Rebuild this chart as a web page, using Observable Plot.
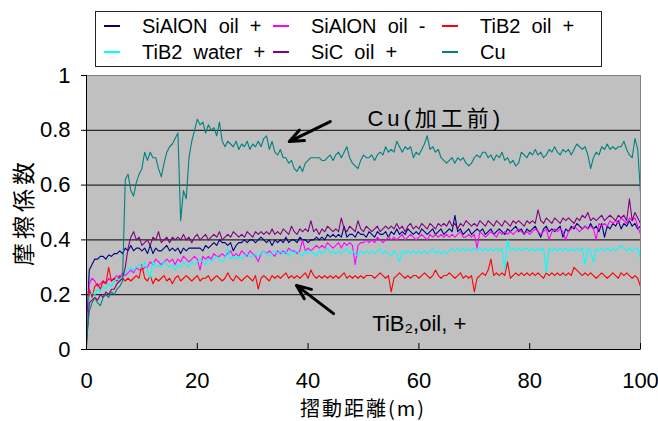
<!DOCTYPE html>
<html><head><meta charset="utf-8">
<script src="https://cdn.jsdelivr.net/npm/d3@7"></script>
<script src="https://cdn.jsdelivr.net/npm/@observablehq/plot@0.6"></script>
<style>
html,body{margin:0;padding:0;background:#fff;}
#wrap{position:relative;width:658px;height:421px;overflow:hidden;font-family:"Liberation Sans",Arial,sans-serif;}
#chart svg{display:block;}
#legend{position:absolute;left:95px;top:11px;width:505px;height:54px;border:1.5px solid #222;}
.item{position:absolute;height:26px;width:160px;}
.sw{position:absolute;left:0;top:12px;width:16px;height:2px;}
.lb{position:absolute;left:38px;top:0;font-size:20px;line-height:26px;white-space:pre;color:#000;}
.title{position:absolute;font-family:"Noto Sans CJK JP","Liberation Sans",sans-serif;color:#000;white-space:pre;text-align:center;}
</style></head>
<body><div id="wrap"><div id="chart"></div><div id="legend"></div>
<div class="title" id="xt"></div><div class="title" id="yt"></div></div>
<script>
// ---- data ----
const seriesNames = ["SiAlON  oil  +", "SiAlON  oil  -", "TiB2  oil  +", "TiB2  water  +", "SiC  oil  +", "Cu"];
const seriesColors = ["#000080", "#ff00ff", "#ff0000", "#00ffff", "#800080", "#008080"];
const xTicks = [0, 20, 40, 60, 80, 100];
const yTicks = [0, 0.2, 0.4, 0.6, 0.8, 1];
const yGrid = [0.2, 0.4, 0.6, 0.8];
const xTitle = "摺動距離(m)";
const yTitle = "摩擦係数";

const distance = [
0,0.5,1,1.5,2,2.5,3,3.5,4,4.5,5,5.5,6,6.5,7,7.5,8,8.5,9,9.5,
10,10.5,11,11.5,12,12.5,13,13.5,14,14.5,15,15.5,16,16.5,17,17.5,18,18.5,19,19.5,
20,20.5,21,21.5,22,22.5,23,23.5,24,24.5,25,25.5,26,26.5,27,27.5,28,28.5,29,29.5,
30,30.5,31,31.5,32,32.5,33,33.5,34,34.5,35,35.5,36,36.5,37,37.5,38,38.5,39,39.5,
40,40.5,41,41.5,42,42.5,43,43.5,44,44.5,45,45.5,46,46.5,47,47.5,48,48.5,49,49.5,
50,50.5,51,51.5,52,52.5,53,53.5,54,54.5,55,55.5,56,56.5,57,57.5,58,58.5,59,59.5,
60,60.5,61,61.5,62,62.5,63,63.5,64,64.5,65,65.5,66,66.5,67,67.5,68,68.5,69,69.5,
70,70.5,71,71.5,72,72.5,73,73.5,74,74.5,75,75.5,76,76.5,77,77.5,78,78.5,79,79.5,
80,80.5,81,81.5,82,82.5,83,83.5,84,84.5,85,85.5,86,86.5,87,87.5,88,88.5,89,89.5,
90,90.5,91,91.5,92,92.5,93,93.5,94,94.5,95,95.5,96,96.5,97,97.5,98,98.5,99,99.5,
100];

const sialonOilPlus = [
0.05,0.29,0.31,0.33,0.33,0.34,0.34,0.33,0.345,0.34,
0.35,0.35,0.36,0.35,0.37,0.36,0.38,0.36,0.37,0.37,
0.36,0.37,0.35,0.38,0.35,0.37,0.36,0.36,0.37,0.38,
0.36,0.37,0.36,0.37,0.35,0.37,0.36,0.37,0.37,0.37,
0.37,0.37,0.36,0.38,0.37,0.38,0.39,0.38,0.4,0.39,
0.39,0.38,0.39,0.36,0.38,0.39,0.39,0.4,0.39,0.4,
0.4,0.39,0.4,0.41,0.4,0.39,0.4,0.38,0.4,0.39,
0.4,0.39,0.41,0.39,0.4,0.4,0.39,0.41,0.4,0.4,
0.39,0.4,0.4,0.41,0.4,0.41,0.4,0.42,0.41,0.42,
0.41,0.42,0.41,0.45,0.41,0.42,0.42,0.41,0.43,0.42,
0.42,0.41,0.43,0.42,0.41,0.43,0.42,0.42,0.43,0.41,
0.43,0.42,0.44,0.42,0.43,0.42,0.44,0.43,0.42,0.43,
0.42,0.44,0.43,0.42,0.43,0.44,0.42,0.43,0.44,0.42,
0.43,0.44,0.43,0.49,0.43,0.44,0.42,0.43,0.44,0.42,
0.43,0.44,0.43,0.44,0.42,0.43,0.44,0.42,0.43,0.44,
0.43,0.42,0.44,0.43,0.44,0.45,0.43,0.44,0.42,0.44,
0.43,0.44,0.45,0.43,0.41,0.44,0.45,0.43,0.44,0.43,
0.44,0.45,0.41,0.44,0.43,0.45,0.44,0.46,0.45,0.44,
0.45,0.44,0.46,0.44,0.45,0.43,0.46,0.41,0.45,0.44,
0.46,0.45,0.47,0.44,0.46,0.45,0.47,0.45,0.46,0.44,
0.45];

const sialonOilMinus = [
0.03,0.24,0.26,0.25,0.23,0.24,0.25,0.24,0.26,0.25,
0.26,0.27,0.26,0.28,0.27,0.28,0.29,0.28,0.3,0.29,
0.29,0.3,0.3,0.32,0.31,0.33,0.32,0.31,0.32,0.33,
0.32,0.33,0.31,0.33,0.32,0.34,0.33,0.32,0.33,0.34,
0.33,0.29,0.34,0.33,0.34,0.33,0.35,0.34,0.34,0.35,
0.34,0.35,0.36,0.34,0.35,0.34,0.36,0.35,0.34,0.36,
0.35,0.34,0.32,0.35,0.36,0.35,0.36,0.35,0.34,0.36,
0.35,0.36,0.35,0.37,0.36,0.36,0.35,0.36,0.4,0.36,
0.37,0.36,0.37,0.38,0.37,0.38,0.37,0.39,0.38,0.37,
0.38,0.39,0.37,0.39,0.38,0.39,0.38,0.31,0.38,0.39,
0.39,0.4,0.39,0.4,0.39,0.41,0.4,0.39,0.4,0.41,
0.4,0.41,0.4,0.41,0.42,0.4,0.41,0.42,0.41,0.4,
0.41,0.42,0.41,0.4,0.42,0.41,0.42,0.41,0.42,0.41,
0.42,0.41,0.42,0.41,0.42,0.43,0.41,0.41,0.42,0.41,
0.42,0.37,0.43,0.42,0.41,0.42,0.43,0.42,0.41,0.43,
0.42,0.43,0.42,0.43,0.42,0.43,0.44,0.43,0.42,0.43,
0.42,0.43,0.44,0.43,0.42,0.43,0.44,0.4,0.43,0.44,
0.43,0.44,0.43,0.4,0.43,0.44,0.45,0.44,0.43,0.44,
0.45,0.44,0.45,0.44,0.4,0.46,0.45,0.46,0.45,0.47,
0.46,0.47,0.46,0.48,0.47,0.46,0.48,0.47,0.48,0.45,
0.42];

const tib2OilPlus = [
0.01,0.22,0.19,0.23,0.24,0.22,0.25,0.24,0.3,0.25,
0.26,0.25,0.27,0.26,0.25,0.26,0.25,0.26,0.27,0.26,
0.31,0.26,0.25,0.27,0.24,0.26,0.25,0.26,0.27,0.25,
0.26,0.24,0.26,0.27,0.25,0.26,0.27,0.26,0.25,0.26,
0.27,0.25,0.26,0.26,0.27,0.25,0.26,0.27,0.26,0.25,
0.26,0.28,0.26,0.25,0.27,0.26,0.25,0.26,0.27,0.26,
0.25,0.27,0.22,0.26,0.27,0.26,0.25,0.27,0.26,0.27,
0.26,0.27,0.28,0.26,0.27,0.26,0.27,0.26,0.27,0.28,
0.26,0.29,0.27,0.26,0.27,0.26,0.27,0.26,0.27,0.26,
0.27,0.26,0.27,0.28,0.26,0.27,0.26,0.27,0.26,0.27,
0.26,0.27,0.27,0.27,0.26,0.27,0.28,0.27,0.26,0.27,
0.21,0.26,0.27,0.28,0.27,0.26,0.27,0.26,0.27,0.27,
0.26,0.27,0.28,0.27,0.26,0.27,0.29,0.27,0.26,0.27,
0.27,0.28,0.27,0.26,0.27,0.28,0.26,0.27,0.26,0.27,
0.21,0.26,0.27,0.28,0.27,0.29,0.33,0.27,0.28,0.27,
0.28,0.27,0.32,0.26,0.27,0.28,0.27,0.28,0.27,0.28,
0.27,0.28,0.27,0.28,0.27,0.26,0.28,0.27,0.28,0.27,
0.28,0.27,0.28,0.27,0.28,0.27,0.3,0.29,0.28,0.27,
0.28,0.27,0.28,0.27,0.26,0.27,0.28,0.27,0.26,0.27,
0.28,0.27,0.26,0.28,0.27,0.28,0.27,0.26,0.27,0.26,
0.23];

const tib2WaterPlus = [
0.03,0.19,0.21,0.2,0.22,0.21,0.23,0.22,0.24,0.23,
0.25,0.26,0.25,0.27,0.28,0.29,0.3,0.29,0.3,0.31,
0.3,0.32,0.29,0.26,0.32,0.3,0.31,0.3,0.32,0.31,
0.3,0.31,0.29,0.31,0.3,0.32,0.31,0.3,0.32,0.31,
0.32,0.33,0.32,0.31,0.33,0.32,0.33,0.34,0.33,0.32,
0.33,0.37,0.33,0.34,0.33,0.34,0.33,0.34,0.35,0.34,
0.34,0.35,0.34,0.35,0.36,0.35,0.34,0.35,0.36,0.35,
0.36,0.35,0.36,0.34,0.36,0.35,0.36,0.35,0.34,0.36,
0.35,0.36,0.35,0.34,0.36,0.35,0.36,0.37,0.35,0.36,
0.35,0.36,0.35,0.36,0.37,0.35,0.36,0.35,0.34,0.36,
0.35,0.36,0.35,0.36,0.35,0.36,0.37,0.35,0.36,0.35,
0.34,0.36,0.35,0.32,0.36,0.35,0.36,0.35,0.36,0.35,
0.36,0.35,0.36,0.35,0.36,0.37,0.35,0.36,0.35,0.36,
0.35,0.36,0.37,0.36,0.37,0.36,0.37,0.36,0.37,0.36,
0.37,0.36,0.37,0.36,0.37,0.36,0.37,0.36,0.37,0.36,
0.37,0.29,0.4,0.36,0.37,0.36,0.37,0.36,0.37,0.37,
0.36,0.37,0.36,0.37,0.36,0.37,0.28,0.37,0.36,0.37,
0.36,0.37,0.36,0.37,0.36,0.37,0.36,0.37,0.36,0.37,
0.31,0.37,0.36,0.32,0.37,0.36,0.37,0.36,0.37,0.36,
0.37,0.36,0.37,0.38,0.37,0.36,0.37,0.36,0.37,0.37,
0.33];

const sicOilPlus = [
0.02,0.17,0.18,0.19,0.18,0.2,0.19,0.21,0.2,0.22,
0.22,0.24,0.25,0.26,0.3,0.37,0.41,0.43,0.4,0.41,
0.38,0.39,0.4,0.38,0.41,0.4,0.43,0.39,0.4,0.41,
0.39,0.41,0.4,0.41,0.4,0.42,0.4,0.41,0.39,0.41,
0.42,0.4,0.41,0.42,0.4,0.41,0.42,0.41,0.43,0.4,
0.41,0.42,0.41,0.43,0.42,0.41,0.42,0.41,0.43,0.42,
0.41,0.43,0.42,0.43,0.42,0.43,0.42,0.44,0.42,0.43,
0.42,0.44,0.43,0.42,0.45,0.43,0.42,0.44,0.43,0.44,
0.43,0.47,0.43,0.44,0.42,0.44,0.43,0.45,0.44,0.43,
0.44,0.43,0.48,0.44,0.43,0.45,0.44,0.43,0.47,0.44,
0.43,0.45,0.44,0.43,0.44,0.45,0.43,0.44,0.45,0.44,
0.45,0.44,0.46,0.44,0.45,0.43,0.45,0.46,0.44,0.45,
0.44,0.46,0.45,0.44,0.46,0.45,0.44,0.46,0.45,0.46,
0.45,0.47,0.45,0.46,0.44,0.46,0.45,0.47,0.46,0.45,
0.46,0.45,0.47,0.46,0.45,0.47,0.46,0.45,0.47,0.46,
0.45,0.47,0.46,0.45,0.47,0.46,0.47,0.46,0.45,0.47,
0.46,0.47,0.46,0.51,0.47,0.46,0.48,0.47,0.46,0.48,
0.47,0.46,0.48,0.47,0.48,0.47,0.46,0.48,0.47,0.49,
0.48,0.5,0.47,0.48,0.47,0.48,0.49,0.47,0.48,0.49,
0.48,0.47,0.49,0.48,0.49,0.47,0.55,0.47,0.5,0.48,
0.46];

const cu = [
0.03,0.14,0.17,0.19,0.17,0.16,0.19,0.2,0.19,0.21,
0.2,0.22,0.23,0.25,0.62,0.64,0.58,0.56,0.61,0.64,
0.66,0.72,0.69,0.72,0.7,0.7,0.66,0.63,0.68,0.72,
0.74,0.75,0.77,0.79,0.47,0.58,0.55,0.7,0.76,0.8,
0.84,0.82,0.83,0.79,0.82,0.8,0.81,0.78,0.83,0.76,
0.74,0.76,0.75,0.74,0.76,0.73,0.75,0.74,0.76,0.73,
0.75,0.74,0.76,0.74,0.77,0.78,0.73,0.76,0.72,0.71,
0.73,0.7,0.7,0.68,0.69,0.66,0.65,0.67,0.65,0.68,
0.69,0.7,0.7,0.7,0.7,0.69,0.69,0.7,0.71,0.69,
0.71,0.72,0.7,0.72,0.74,0.7,0.68,0.67,0.66,0.69,
0.71,0.7,0.7,0.71,0.69,0.71,0.72,0.71,0.74,0.72,
0.73,0.72,0.76,0.74,0.72,0.74,0.73,0.74,0.7,0.72,
0.71,0.73,0.75,0.78,0.73,0.74,0.72,0.73,0.7,0.69,
0.68,0.69,0.7,0.68,0.7,0.69,0.7,0.68,0.67,0.68,
0.7,0.71,0.7,0.72,0.72,0.7,0.71,0.69,0.71,0.7,
0.72,0.69,0.7,0.68,0.69,0.67,0.68,0.72,0.71,0.7,
0.72,0.71,0.73,0.71,0.72,0.7,0.71,0.73,0.72,0.74,
0.72,0.71,0.73,0.72,0.73,0.71,0.73,0.75,0.74,0.73,
0.74,0.71,0.66,0.7,0.72,0.71,0.74,0.73,0.75,0.73,
0.74,0.73,0.74,0.74,0.76,0.73,0.71,0.7,0.77,0.73,
0.57];

// annotations (data coordinates)
const noteText = ["Cu(加工前)", "TiB₂,oil, +"];
const noteX = [50.7, 51.6];
const noteY = [0.843, 0.095];
const arrowX1 = [44.0, 44.6], arrowY1 = [0.832, 0.131];
const arrowX2 = [36.6, 37.9], arrowY2 = [0.759, 0.234];

// ---- build ----
const seriesValues = [sialonOilPlus, sialonOilMinus, tib2OilPlus, tib2WaterPlus, sicOilPlus, cu];
const rows = [];
seriesValues.forEach((vals, s) => vals.forEach((v, i) => rows.push({series: seriesNames[s], distance: distance[i], value: v})));
const notes = noteText.map((t, i) => ({text: t, x: noteX[i], y: noteY[i]}));
const arrows = arrowX1.map((d, i) => ({x1: d, y1: arrowY1[i], x2: arrowX2[i], y2: arrowY2[i]}));

const fontStack = "'Liberation Sans','Noto Sans CJK JP',Arial,sans-serif";
const chart = Plot.plot({
  width: 658, height: 421,
  marginTop: 75, marginBottom: 72, marginLeft: 86, marginRight: 18,
  style: {fontFamily: fontStack, fontSize: "22px", background: "transparent", color: "#000", overflow: "visible"},
  x: {domain: [0, 100]},
  y: {domain: [0, 1]},
  color: {domain: seriesNames, range: seriesColors},
  marks: [
    Plot.frame({fill: "#c0c0c0", stroke: null}),
    Plot.ruleY(yGrid, {stroke: "#000", strokeWidth: 1}),
    Plot.line(rows, {x: "distance", y: "value", z: "series", stroke: "series", strokeWidth: 1.1}),
    Plot.frame({stroke: "#808080", strokeWidth: 1}),
    Plot.ruleX([0], {stroke: "#000"}),
    Plot.ruleY([0], {stroke: "#000"}),
    Plot.axisY({ticks: yTicks, tickSize: 5, tickPadding: 11, tickFormat: d => String(d), fontSize: 22, label: null}),
    Plot.axisX({ticks: xTicks, tickSize: -6, tickPadding: 29, tickFormat: d => String(d), fontSize: 22, label: null}),
    Plot.arrow(arrows, {x1: "x1", y1: "y1", x2: "x2", y2: "y2", stroke: "#000", strokeWidth: 3, headLength: 14, headAngle: 45}),
    Plot.text(notes, {x: "x", y: "y", text: "text", textAnchor: "start", fontSize: 22})
  ]
});
document.getElementById("chart").appendChild(chart);
d3.select(chart).selectAll("text").each(function () {
  if (this.textContent === noteText[0]) this.setAttribute("letter-spacing", "4");
});

// legend
const legend = d3.select("#legend");
const colLeft = [8, 177, 346];
seriesNames.forEach((name, i) => {
  const item = legend.append("div").attr("class", "item")
    .style("left", colLeft[i % 3] + "px").style("top", (0.5 + Math.floor(i / 3) * 26) + "px");
  item.append("div").attr("class", "sw").style("background", seriesColors[i]);
  item.append("div").attr("class", "lb").text(name);
});

// axis titles
d3.select("#xt").text(xTitle).style("left", "253px").style("top", "397px").style("width", "220px")
  .style("font-size", "20px").style("line-height", "22px").style("letter-spacing", "2px");
d3.select("#yt").text(yTitle).style("left", "-40px").style("top", "198px").style("width", "124px")
  .style("font-size", "23px").style("line-height", "28px").style("transform", "rotate(-90deg)").style("letter-spacing", "4px");
</script></body></html>
